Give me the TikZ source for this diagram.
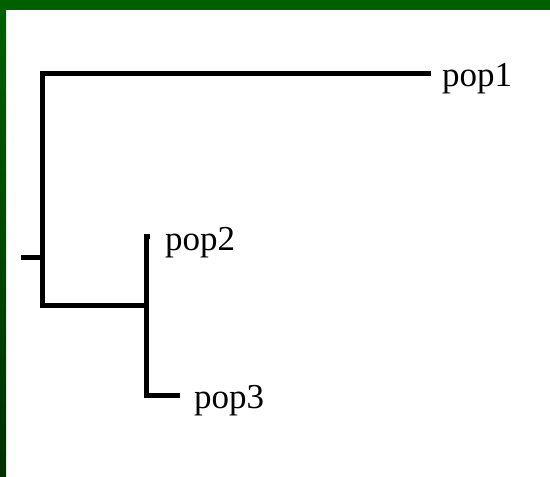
\documentclass[tikz,border=0pt]{standalone}
\usepackage{fontspec}
\setmainfont{Liberation Serif}
\definecolor{bandgreen}{RGB}{0,96,0}
\definecolor{bandgreendark}{RGB}{0,48,0}
\begin{document}
\begin{tikzpicture}[x=1pt,y=-1pt,
  branch/.style={line width=5pt,line cap=butt,line join=miter,black},
  leaflabel/.style={anchor=base west,inner sep=0pt,font=\fontsize{35}{40}\selectfont}]
\useasboundingbox (0,0) rectangle (550,477);
\fill[white] (0,0) rectangle (550,477);
% border bands
\fill[bandgreen] (0,0) rectangle (550,10);
\shade[top color=bandgreen,bottom color=bandgreendark] (0,10) rectangle (6,477);
% tree points
\coordinate (rootstub) at (21,257);
\coordinate (root) at (42,257);
\coordinate (rootTop) at (42,73);
\coordinate (rootBot) at (42,305);
\coordinate (inner) at (146,305);
\coordinate (innerTop) at (146,236);
\coordinate (innerBot) at (146,395);
\coordinate (tip1) at (431,73);
\coordinate (tip2) at (150,236);
\coordinate (tip3) at (180,395);
% labels
\node[leaflabel] (pop1) at (442,86) {pop1};
\node[leaflabel] (pop2) at (165,250) {pop2};
\node[leaflabel] (pop3) at (194,408) {pop3};
% branches
\draw[branch] (rootstub) -- (root);
\draw[branch] (tip1) -- (rootTop) -- (rootBot) -- (inner);
\draw[branch] (tip2) -- (innerTop) -- (innerBot) -- (tip3);
\end{tikzpicture}
\end{document}
